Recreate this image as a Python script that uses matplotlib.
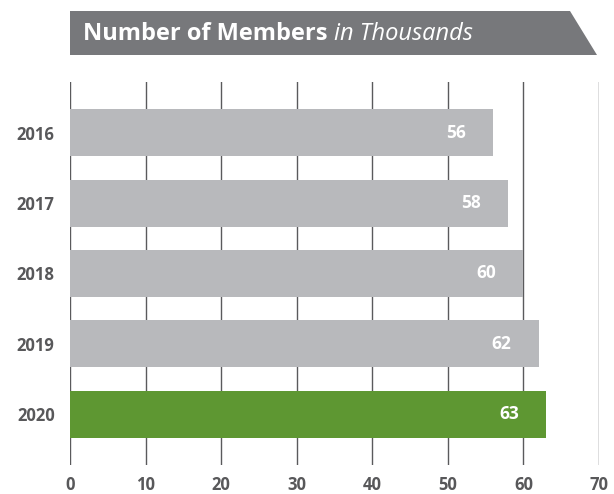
import matplotlib.pyplot as plt
from matplotlib.patches import Polygon

years = ["2016", "2017", "2018", "2019", "2020"]
members = [56, 58, 60, 62, 63]
colors = ["#b8b9bc", "#b8b9bc", "#b8b9bc", "#b8b9bc", "#5e9732"]

plt.rcParams["font.family"] = ["Open Sans", "DejaVu Sans"]

W, H = 614, 494
fig = plt.figure(figsize=(W / 100, H / 100), dpi=100)
ax = fig.add_axes([70 / W, (H - 465) / H, (599 - 70) / W, (465 - 82) / H])

ypos = range(len(years))
ax.barh(ypos, members, height=0.67, color=colors, zorder=2)
ax.set_xlim(0, 70)
ax.set_ylim(4.72, -0.72)
ax.set_xticks(range(0, 71, 10))
ax.set_yticks(list(ypos))
ax.set_yticklabels(years)
ax.grid(axis="x", color="#5a5a5c", linewidth=1, zorder=0)
for s in ax.spines.values():
    s.set_visible(False)
ax.tick_params(length=0, labelsize=12, labelcolor="#58585a")
ax.tick_params(axis="y", pad=11)
ax.tick_params(axis="x", pad=8)
for lab in ax.get_xticklabels() + ax.get_yticklabels():
    lab.set_fontweight("bold")

for y, v in zip(ypos, members):
    ax.annotate(str(v), (v, y), xytext=(-27, 0), textcoords="offset pixels",
                ha="right", va="center", color="white", fontsize=12.5,
                fontweight="bold", zorder=3)

# title banner
banner = Polygon([(70 / W, 1 - 11 / H), (570 / W, 1 - 11 / H),
                  (597 / W, 1 - 55 / H), (70 / W, 1 - 55 / H)],
                 closed=True, transform=fig.transFigure,
                 facecolor="#77787b", edgecolor="none")
fig.patches.append(banner)
t1 = fig.text(83 / W, 1 - 34 / H, "Number of Members", color="white",
              fontsize=17, fontweight="bold", va="center", ha="left")
fig.canvas.draw()
bb = t1.get_window_extent()
fig.text((bb.x1 + 6) / W, 1 - 34 / H, "in Thousands", color="white",
         fontsize=17, style="italic", va="center", ha="left")

fig.savefig("out.png", dpi=100)
